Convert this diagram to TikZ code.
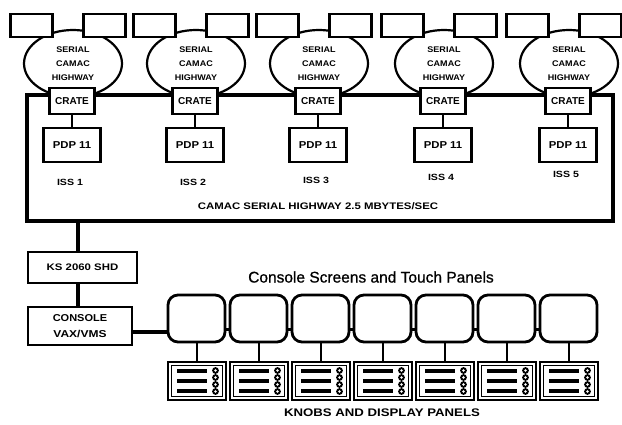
\documentclass[tikz,border=0pt]{standalone}
\usepackage{fontspec}
\setmainfont{Liberation Sans}
\newfontfamily\medfont{Liberation Sans}[FakeBold=0.8]
\usepackage{graphicx}
\usetikzlibrary{shapes.geometric}
\newcommand\xs[2]{\scalebox{#1}[1]{#2}}
\tikzset{
  box/.style={draw, line width=2.3pt, fill=white, inner sep=0pt},
  hwy/.style={draw, ellipse, line width=2.2pt, fill=white, minimum width=98pt, minimum height=67pt, inner sep=0pt, align=center, font=\fontsize{8.2}{14}\selectfont\bfseries},
  lab/.style={inner sep=0pt, font=\fontsize{9.5}{11}\selectfont\bfseries},
  link/.style={line width=2.2pt},
  thickl/.style={line width=4.5pt},
  bus/.style={draw, line width=4.8pt, minimum width=586pt, minimum height=126pt, inner sep=0pt},
  screen/.style={draw, line width=2.8pt, rounded corners=10pt, minimum width=57pt, minimum height=47pt, inner sep=0pt},
  panel/.style={draw, line width=2.3pt, minimum width=58pt, minimum height=38pt, inner sep=0pt},
}
\begin{document}
\begin{tikzpicture}[x=1pt,y=-1pt]
\fill[white] (0,0) rectangle (622,424);
\useasboundingbox (0,0) rectangle (622,424);
% highway ellipses and their top boxes
\foreach \g/\gx in {1/72,2/195,3/318,4/443,5/568}{
  \node[hwy] (hw\g) at (\gx+1,63.5) {\xs{1.1}{SERIAL}\\\xs{1.1}{CAMAC}\\\xs{1.1}{HIGHWAY}};
  \node[box, minimum width=42pt, minimum height=23pt] (tl\g) at (\gx-40.5,25.5) {};
  \node[box, minimum width=42pt, minimum height=23pt] (tr\g) at (\gx+32.5,25.5) {};
}
% serial highway loop
\node[bus] (bus) at (320,158) {};
% crates, PDP 11s, ISS labels
\foreach \g/\gx/\iy in {1/72/182,2/195/182,3/318/180,4/443/177,5/568/174}{
  \node[box, minimum width=45pt, minimum height=26pt, font=\fontsize{10}{11}\selectfont\bfseries] (cr\g) at (\gx,101) {\raisebox{-3pt}{CRATE}};
  \node[box, minimum width=57pt, minimum height=34pt, font=\fontsize{10}{11}\selectfont\bfseries] (pdp\g) at (\gx,145) {\xs{1.13}{PDP 11}};
  \draw[link] (cr\g) -- (pdp\g);
  \node[lab, font=\fontsize{9}{10}\selectfont\bfseries] (iss\g) at (\gx-2,\iy) {\xs{1.18}{ISS \g}};
}
\node[lab] (csh) at (318,206) {\xs{1.2}{CAMAC SERIAL HIGHWAY 2.5 MBYTES/SEC}};
% KS 2060 SHD and console
\node[box, line width=2.5pt, minimum width=109pt, minimum height=31pt, font=\fontsize{9.5}{11}\selectfont\bfseries] (ks) at (82.5,267.5) {\xs{1.2}{KS 2060 SHD}};
\node[box, line width=2.5pt, minimum width=104pt, minimum height=38pt, align=center, font=\fontsize{10}{16}\selectfont\bfseries] (con) at (80,326) {\xs{1.1}{CONSOLE}\\\xs{1.2}{VAX/VMS}};
\coordinate (kx) at (78,0);
\draw[thickl] (bus.south -| kx) -- (ks.north -| kx);
\draw[thickl] (ks.south -| kx) -- (con.north -| kx);
% screens and panels
\node[font=\fontsize{15.5}{17}\medfont] (cst) at (371,277) {Console Screens and Touch Panels};
\foreach \i in {1,...,7}{
  \node[screen] (scr\i) at ({196.5+62*(\i-1)},318.5) {};
  \node[panel] (pan\i) at ({197+62*(\i-1)},381) {};
  \draw[link] (scr\i.south -| pan\i.north) -- (pan\i.north);
  \begin{scope}[shift={(pan\i.center)}]
    \draw[line width=0.8pt] (-25.5,-15.5) rectangle (25.5,15.5);
    \foreach \yy in {-10,0,10}{\draw[line width=3.8pt] (-20,\yy) -- (10,\yy);}
    \foreach \yy in {-10.5,-3.5,3.5,10.5}{
      \fill (18.5,\yy) circle [radius=3.4pt];
      \fill[white] (18.5,\yy) circle [radius=1.3pt];
    }
  \end{scope}
}
\foreach \i/\j in {1/2,2/3,3/4,4/5,5/6,6/7}{
  \draw[line width=3.2pt] ([yshift=-11pt]scr\i.east) -- ([yshift=-11pt]scr\j.west);
}
\draw[thickl] ([yshift=-6pt]con.east) -- ([yshift=-6pt]con.east -| scr1.west);
\node[lab, font=\fontsize{11}{12}\selectfont\bfseries] (kdp) at (382,413) {\xs{1.2}{KNOBS AND DISPLAY PANELS}};
\end{tikzpicture}
\end{document}
